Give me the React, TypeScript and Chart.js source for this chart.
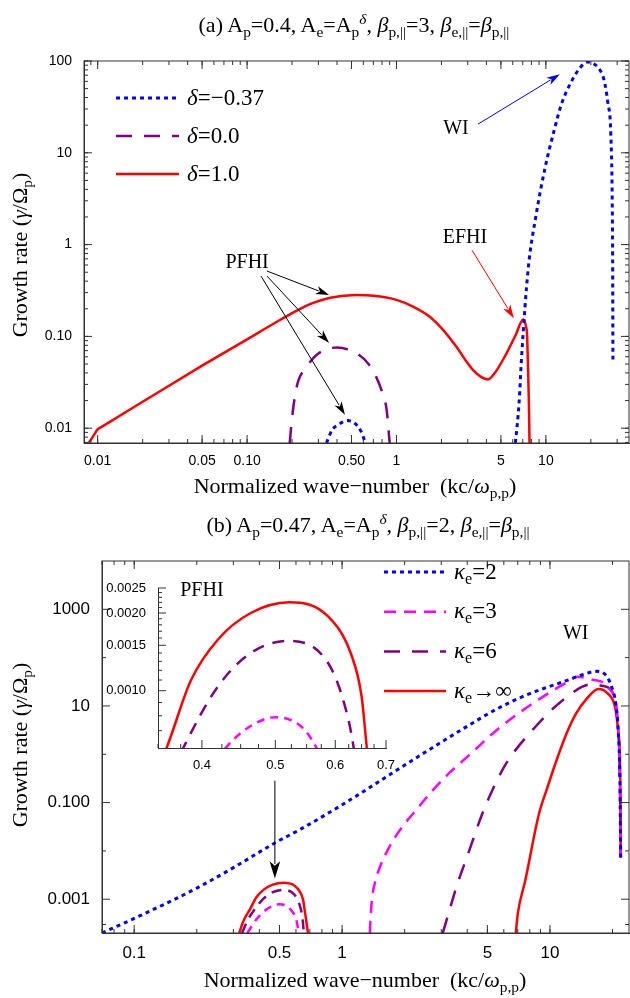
import React, { useEffect, useRef } from 'react';
import Chart from 'chart.js/auto';

// ---- panel (a) data ----
const kRedA = [0.0087, 0.0093, 0.01, 0.0105, 0.02, 0.05, 0.1, 0.166, 0.22, 0.277, 0.35, 0.45, 0.54, 0.7, 1.0, 1.3, 1.67, 2.05, 2.52, 2.9, 3.26, 3.7, 4.1, 4.6, 5.44, 6.3, 7.05, 7.35, 7.49, 7.6, 7.7, 7.77];
const gRedA = [0.0069, 0.0081, 0.0097, 0.0102, 0.0194, 0.048, 0.093, 0.151, 0.195, 0.232, 0.261, 0.277, 0.282, 0.277, 0.25, 0.21, 0.164, 0.118, 0.077, 0.055, 0.043, 0.036, 0.034, 0.041, 0.065, 0.105, 0.153, 0.13, 0.1, 0.043, 0.018, 0.0069];
const kPurA = [0.193, 0.2, 0.215, 0.25, 0.3, 0.398, 0.54, 0.65, 0.73, 0.8, 0.86, 0.9];
const gPurA = [0.0069, 0.013, 0.0284, 0.0465, 0.065, 0.0756, 0.0655, 0.05, 0.0365, 0.025, 0.0157, 0.0069];
const kBluA1 = [0.34, 0.37, 0.41, 0.47, 0.53, 0.58, 0.62];
const gBluA1 = [0.0069, 0.0095, 0.011, 0.0121, 0.0112, 0.0092, 0.0069];
const kBluA2 = [6.25, 6.6, 6.9, 7.6, 8.6, 9.9, 11.3, 12.8, 15, 17, 18.9, 21, 23, 24.5, 26, 27.2, 27.8, 28, 28.1];
const gBluA2 = [0.0069, 0.018, 0.065, 0.53, 2.1, 7, 17, 35, 62, 85, 97.5, 93, 80, 62, 35, 16, 3, 0.5, 0.056];
const xTicksA = [0.01, 0.05, 0.1, 0.5, 1, 5, 10];
const xLabelsA = ['0.01', '0.05', '0.10', '0.50', '1', '5', '10'];
const yTicksA = [0.01, 0.1, 1, 10, 100];
const yLabelsA = ['0.01', '0.10', '1', '10', '100'];

// ---- panel (b) data ----
const kBlueB = [0.07, 0.1, 0.2, 0.3, 0.48, 0.63, 1, 1.32, 1.79, 2.72, 4, 5.7, 8, 11.9, 14.5, 16.7, 18.5, 19.8, 20.8, 21.3, 21.7, 21.9];
const gBlueB = [0.0002, 0.0004, 0.0017, 0.0045, 0.015, 0.028, 0.09, 0.19, 0.44, 1.37, 3.8, 9.2, 18, 33, 45, 52, 44, 25, 10, 3.1, 0.3, 0.0073];
const kMagB = [1.36, 1.37, 1.4, 1.45, 1.52, 1.65, 1.89, 2.3, 2.72, 3.3, 3.96, 5.7, 8.2, 11.9, 13.6, 16, 19.8, 21.3, 21.7, 21.9];
const gMagB = [0.0002, 0.0004, 0.0012, 0.0025, 0.0046, 0.01, 0.0264, 0.075, 0.177, 0.42, 0.85, 3.5, 11, 30, 40, 35, 20, 3.1, 0.3, 0.0073];
const kPurB = [3.05, 3.2, 3.55, 4.1, 4.72, 5.4, 6.15, 8.2, 11.9, 15.8, 18, 19.5, 21.3, 21.7, 21.9];
const gPurB = [0.0002, 0.0004, 0.0018, 0.0105, 0.058, 0.22, 0.64, 3.1, 14.7, 28, 26, 22, 3.1, 0.3, 0.0073];
const kRedB = [6.85, 7.0, 7.6, 8.85, 9.7, 10.6, 12, 13.3, 15, 17.1, 19, 20.6, 21.3, 21.8, 21.9];
const gRedB = [0.0002, 0.0005, 0.0024, 0.058, 0.2, 0.63, 2.66, 6.8, 14, 22.5, 18, 9.2, 3, 0.28, 0.0073];
// PFHI bumps (main panel and inset)
const kRedP = [0.32, 0.335, 0.35, 0.36, 0.387, 0.42, 0.464, 0.522, 0.587, 0.631, 0.65, 0.66, 0.67, 0.685];
const gRedP = [0.0002, 0.00035, 0.0005, 0.00061, 0.0011, 0.00158, 0.002, 0.0022, 0.00194, 0.00136, 0.00095, 0.00061, 0.0004, 0.0002];
const kPurP = [0.33, 0.355, 0.379, 0.42, 0.464, 0.52, 0.587, 0.618, 0.634, 0.645, 0.655];
const gPurP = [0.0002, 0.0004, 0.00061, 0.00104, 0.0014, 0.00156, 0.00128, 0.00087, 0.00061, 0.0004, 0.0002];
const kMagP = [0.35, 0.39, 0.432, 0.464, 0.5, 0.54, 0.565, 0.6, 0.62];
const gMagP = [0.0002, 0.0004, 0.00061, 0.00073, 0.00079, 0.00073, 0.00061, 0.0004, 0.0002];
const xTicksB = [0.1, 0.5, 1, 5, 10];
const xLabelsB = ['0.1', '0.5', '1', '5', '10'];
const yTicksB = [0.001, 0.1, 10, 1000];
const yLabelsB = ['0.001', '0.100', '10', '1000'];
const xTicksIn = [0.4, 0.5, 0.6, 0.7];
const xLabelsIn = ['0.4', '0.5', '0.6', '0.7'];
const yTicksIn = [0.001, 0.0015, 0.002, 0.0025];
const yLabelsIn = ['0.0010', '0.0015', '0.0020', '0.0025'];

const BLUE = '#0000ff';
const PURPLE = '#800080';
const RED = '#ff0000';
const MAGENTA = '#ff00ff';
const SANS = '"Liberation Sans", Arial, sans-serif';
const SERIF = '"Liberation Serif", "Times New Roman", serif';

const pts = (k: number[], g: number[]) => k.map((x, i) => ({ x, y: g[i] }));

function minorLog(min: number, max: number) {
  const out: number[] = [];
  for (let e = Math.floor(Math.log10(min)); e <= Math.ceil(Math.log10(max)); e++) {
    for (let m = 1; m < 10; m++) {
      const v = m * Math.pow(10, e);
      if (v >= min && v <= max) out.push(v);
    }
  }
  return out;
}

function ds(data: { x: number; y: number }[], color: string, dash: number[], width: number) {
  return {
    data,
    borderColor: color,
    borderDash: dash,
    borderWidth: width,
    pointRadius: 0,
    showLine: true,
    fill: false,
    cubicInterpolationMode: 'monotone' as const,
  };
}

type Arrow = { x1: number; y1: number; x2: number; y2: number; color: string; head: number };
type Label = { x: number; y: number; text: string };
type LegendItem = { color: string; dash: number[]; width: number };

interface PanelProps {
  width: number;
  height: number;
  area: { left: number; top: number; right: number; bottom: number };
  xMin: number; xMax: number; yMin: number; yMax: number;
  xTicks: number[]; xLabels: string[]; yTicks: number[]; yLabels: string[];
  xMinor: number[]; yMinor: number[];
  datasets: any[];
  arrows: Arrow[];
  labels: Label[];
  legend: LegendItem[];
  legendBox: { x1: number; x2: number; y0: number; dy: number };
  fullFrame: boolean;
  tickFont: number;
}

function Panel(p: PanelProps) {
  const ref = useRef<HTMLCanvasElement>(null);
  useEffect(() => {
    if (!ref.current) return;
    const deco = {
      id: 'deco',
      afterDraw(chart: any) {
        const { ctx, chartArea: a, scales } = chart;
        const xs = scales.x, ys = scales.y;
        ctx.save();
        ctx.strokeStyle = '#333';
        ctx.lineWidth = 1;
        if (p.fullFrame) ctx.strokeRect(a.left, a.top, a.right - a.left, a.bottom - a.top);
        const tick = (v: number, len: number, axis: 'x' | 'y') => {
          ctx.beginPath();
          if (axis === 'x') {
            const px = xs.getPixelForValue(v);
            ctx.moveTo(px, a.bottom); ctx.lineTo(px, a.bottom - len);
            if (p.fullFrame) { ctx.moveTo(px, a.top); ctx.lineTo(px, a.top + len); }
          } else {
            const py = ys.getPixelForValue(v);
            ctx.moveTo(a.left, py); ctx.lineTo(a.left + len, py);
            if (p.fullFrame) { ctx.moveTo(a.right, py); ctx.lineTo(a.right - len, py); }
          }
          ctx.stroke();
        };
        p.xMinor.forEach((v) => tick(v, 4, 'x'));
        p.yMinor.forEach((v) => tick(v, 4, 'y'));
        p.xTicks.forEach((v) => tick(v, 8, 'x'));
        p.yTicks.forEach((v) => tick(v, 8, 'y'));
        // annotation arrows
        p.arrows.forEach((ar) => {
          const x1 = xs.getPixelForValue(ar.x1), y1 = ys.getPixelForValue(ar.y1);
          const x2 = xs.getPixelForValue(ar.x2), y2 = ys.getPixelForValue(ar.y2);
          const ang = Math.atan2(y2 - y1, x2 - x1);
          ctx.strokeStyle = ar.color;
          ctx.fillStyle = ar.color;
          ctx.lineWidth = 1;
          ctx.beginPath(); ctx.moveTo(x1, y1); ctx.lineTo(x2 - Math.cos(ang) * ar.head * 0.8, y2 - Math.sin(ang) * ar.head * 0.8); ctx.stroke();
          ctx.beginPath();
          ctx.moveTo(x2, y2);
          ctx.lineTo(x2 - ar.head * Math.cos(ang - 0.3), y2 - ar.head * Math.sin(ang - 0.3));
          ctx.lineTo(x2 - ar.head * 0.7 * Math.cos(ang), y2 - ar.head * 0.7 * Math.sin(ang));
          ctx.lineTo(x2 - ar.head * Math.cos(ang + 0.3), y2 - ar.head * Math.sin(ang + 0.3));
          ctx.closePath(); ctx.fill();
        });
        ctx.fillStyle = '#000';
        ctx.font = `20px ${SERIF}`;
        ctx.textAlign = 'center';
        ctx.textBaseline = 'middle';
        p.labels.forEach((l) => ctx.fillText(l.text, xs.getPixelForValue(l.x), ys.getPixelForValue(l.y)));
        // legend samples
        p.legend.forEach((it, i) => {
          const y = p.legendBox.y0 + i * p.legendBox.dy;
          ctx.strokeStyle = it.color;
          ctx.lineWidth = it.width;
          ctx.setLineDash(it.dash);
          ctx.beginPath(); ctx.moveTo(p.legendBox.x1, y); ctx.lineTo(p.legendBox.x2, y); ctx.stroke();
        });
        ctx.restore();
      },
    };
    const a = p.area;
    const chart = new Chart(ref.current, {
      type: 'scatter',
      data: { datasets: p.datasets },
      plugins: [deco],
      options: {
        animation: false,
        responsive: false,
        layout: { padding: { left: 0, top: a.top, right: p.width - a.right, bottom: 0 } },
        plugins: { legend: { display: false }, tooltip: { enabled: false } },
        scales: {
          x: {
            type: 'logarithmic', min: p.xMin, max: p.xMax,
            grid: { display: false },
            border: { display: true, color: '#333' },
            afterFit: (s: any) => { s.height = p.height - a.bottom; },
            afterBuildTicks: (s: any) => { s.ticks = p.xTicks.map((v) => ({ value: v })); },
            ticks: {
              autoSkip: false, maxRotation: 0, padding: 2,
              color: '#000', font: { family: SANS, size: p.tickFont },
              callback: (v: any) => p.xLabels[p.xTicks.indexOf(Number(v))] ?? '',
            },
          },
          y: {
            type: 'logarithmic', min: p.yMin, max: p.yMax,
            grid: { display: false },
            border: { display: true, color: '#333' },
            afterFit: (s: any) => { s.width = a.left; },
            afterBuildTicks: (s: any) => { s.ticks = p.yTicks.map((v) => ({ value: v })); },
            ticks: {
              autoSkip: false, padding: 4,
              color: '#000', font: { family: SANS, size: p.tickFont },
              callback: (v: any) => p.yLabels[p.yTicks.indexOf(Number(v))] ?? '',
            },
          },
        },
      } as any,
    });
    return () => chart.destroy();
  }, []);
  return <canvas ref={ref} width={p.width} height={p.height} style={{ width: p.width, height: p.height, display: 'block' }} />;
}

const abs = (left: number, top: number, extra: React.CSSProperties = {}): React.CSSProperties => ({
  position: 'absolute', left, top, fontFamily: SERIF, color: '#000', whiteSpace: 'nowrap', lineHeight: 1, ...extra,
});

export default function App() {
  useEffect(() => { document.body.style.margin = '0'; }, []);
  const sub = { fontSize: '0.7em', verticalAlign: '-0.3em' } as const;
  const yTitle = (top: number) => (
    <div style={abs(22, top, { transform: 'translate(-50%, -50%) rotate(-90deg)', fontSize: 22 })}>
      Growth rate (<i>γ</i>/Ω<span style={sub}>p</span>)
    </div>
  );
  const xTitle = (top: number, left: number) => (
    <div style={abs(left, top, { transform: 'translate(-50%, -50%)', fontSize: 22 })}>
      Normalized wave−number&nbsp; (kc/<i>ω</i><span style={sub}>p,p</span>)
    </div>
  );
  return (
    <div style={{ position: 'relative', width: 630, height: 998, background: '#fff', overflow: 'hidden' }}>
      <div style={{ position: 'absolute', left: 0, top: 0 }}>
        <Panel
          width={630} height={500}
          area={{ left: 84, top: 61, right: 629, bottom: 443 }}
          xMin={0.0081} xMax={36} yMin={0.0069} yMax={100}
          xTicks={xTicksA} xLabels={xLabelsA} yTicks={yTicksA} yLabels={yLabelsA}
          xMinor={minorLog(0.0081, 36)} yMinor={minorLog(0.0069, 100)}
          tickFont={14}
          fullFrame
          datasets={[
            ds(pts(kBluA2, gBluA2), BLUE, [4, 4], 3),
            ds(pts(kBluA1, gBluA1), BLUE, [4, 4], 3),
            ds(pts(kPurA, gPurA), PURPLE, [16, 12], 2.5),
            ds(pts(kRedA, gRedA), RED, [], 2.5),
          ]}
          arrows={[
            { x1: 3.51, y1: 20.5, x2: 12.4, y2: 71.7, color: BLUE, head: 14 },
            { x1: 3.2, y1: 0.87, x2: 6.1, y2: 0.158, color: RED, head: 14 },
            { x1: 0.136, y1: 0.515, x2: 0.354, y2: 0.283, color: '#000', head: 14 },
            { x1: 0.136, y1: 0.454, x2: 0.354, y2: 0.085, color: '#000', head: 14 },
            { x1: 0.124, y1: 0.454, x2: 0.452, y2: 0.014, color: '#000', head: 14 },
          ]}
          labels={[
            { x: 2.5, y: 18.5, text: 'WI' },
            { x: 2.87, y: 1.2, text: 'EFHI' },
            { x: 0.1, y: 0.63, text: 'PFHI' },
          ]}
          legend={[
            { color: BLUE, dash: [4, 4], width: 3 },
            { color: PURPLE, dash: [16, 12], width: 2.5 },
            { color: RED, dash: [], width: 2.5 },
          ]}
          legendBox={{ x1: 116, x2: 179, y0: 98, dy: 38 }}
        />
      </div>
      <div style={{ position: 'absolute', left: 0, top: 500 }}>
        <Panel
          width={630} height={498}
          area={{ left: 102, top: 61, right: 629, bottom: 433 }}
          xMin={0.07} xMax={24} yMin={0.0002} yMax={10000}
          xTicks={xTicksB} xLabels={xLabelsB} yTicks={yTicksB} yLabels={yLabelsB}
          xMinor={minorLog(0.07, 24)} yMinor={[0.0003, 0.01, 1, 100]}
          tickFont={17}
          fullFrame
          datasets={[
            ds(pts(kBlueB, gBlueB), BLUE, [4, 4], 3),
            ds(pts(kMagB, gMagB), MAGENTA, [12, 8], 2.5),
            ds(pts(kPurB, gPurB), PURPLE, [16, 12], 2.5),
            ds(pts(kRedB, gRedB), RED, [], 2.5),
            ds(pts(kMagP, gMagP), MAGENTA, [8, 6], 2.5),
            ds(pts(kPurP, gPurP), PURPLE, [10, 7], 2.5),
            ds(pts(kRedP, gRedP), RED, [], 2.5),
          ]}
          arrows={[{ x1: 0.475, y1: 0.285, x2: 0.475, y2: 0.0027, color: '#000', head: 18 }]}
          labels={[{ x: 13.3, y: 310, text: 'WI' }]}
          legend={[
            { color: BLUE, dash: [4, 4], width: 3 },
            { color: MAGENTA, dash: [12, 8], width: 2.5 },
            { color: PURPLE, dash: [16, 12], width: 2.5 },
            { color: RED, dash: [], width: 2.5 },
          ]}
          legendBox={{ x1: 384, x2: 446, y0: 72, dy: 39.7 }}
        />
      </div>
      <div style={{ position: 'absolute', left: 100, top: 560 }}>
        <Panel
          width={300} height={215}
          area={{ left: 58, top: 28, right: 286, bottom: 188 }}
          xMin={0.351} xMax={0.7} yMin={0.0006} yMax={0.0025}
          xTicks={xTicksIn} xLabels={xLabelsIn} yTicks={yTicksIn} yLabels={yLabelsIn}
          xMinor={[0.35, 0.375, 0.425, 0.45, 0.475, 0.525, 0.55, 0.575, 0.625, 0.65, 0.675]}
          yMinor={[0.0007, 0.0008, 0.0009, 0.0011, 0.0012, 0.0013, 0.0014, 0.0016, 0.0017, 0.0018, 0.0019, 0.0021, 0.0022, 0.0023, 0.0024]}
          tickFont={13}
          fullFrame={false}
          datasets={[
            ds(pts(kMagP, gMagP), MAGENTA, [8, 6], 2.5),
            ds(pts(kPurP, gPurP), PURPLE, [12, 9], 2.5),
            ds(pts(kRedP, gRedP), RED, [], 2.5),
          ]}
          arrows={[]}
          labels={[{ x: 0.4, y: 0.00243, text: 'PFHI' }]}
          legend={[]}
          legendBox={{ x1: 0, x2: 0, y0: 0, dy: 0 }}
        />
      </div>

      <div style={abs(354, 25, { transform: 'translate(-50%, -50%)', fontSize: 22 })}>
        (a) A<span style={sub}>p</span>=0.4, A<span style={sub}>e</span>=A<span style={sub}>p</span><sup style={{ fontSize: '0.7em' }}><i>δ</i></sup>, <i>β</i><span style={sub}>p,||</span>=3, <i>β</i><span style={sub}>e,||</span>=<i>β</i><span style={sub}>p,||</span>
      </div>
      <div style={abs(368, 525, { transform: 'translate(-50%, -50%)', fontSize: 22 })}>
        (b) A<span style={sub}>p</span>=0.47, A<span style={sub}>e</span>=A<span style={sub}>p</span><sup style={{ fontSize: '0.7em' }}><i>δ</i></sup>, <i>β</i><span style={sub}>p,||</span>=2, <i>β</i><span style={sub}>e,||</span>=<i>β</i><span style={sub}>p,||</span>
      </div>
      {yTitle(255)}
      {yTitle(745)}
      {xTitle(488, 355)}
      {xTitle(982, 365)}

      <div style={abs(187, 86, { fontSize: 23 })}><i>δ</i>=−0.37</div>
      <div style={abs(187, 124, { fontSize: 23 })}><i>δ</i>=0.0</div>
      <div style={abs(187, 162, { fontSize: 23 })}><i>δ</i>=1.0</div>

      <div style={abs(454, 560, { fontSize: 23 })}><i>κ</i><span style={sub}>e</span>=2</div>
      <div style={abs(454, 599, { fontSize: 23 })}><i>κ</i><span style={sub}>e</span>=3</div>
      <div style={abs(454, 639, { fontSize: 23 })}><i>κ</i><span style={sub}>e</span>=6</div>
      <div style={abs(454, 679, { fontSize: 23 })}><i>κ</i><span style={sub}>e</span>→∞</div>
    </div>
  );
}
